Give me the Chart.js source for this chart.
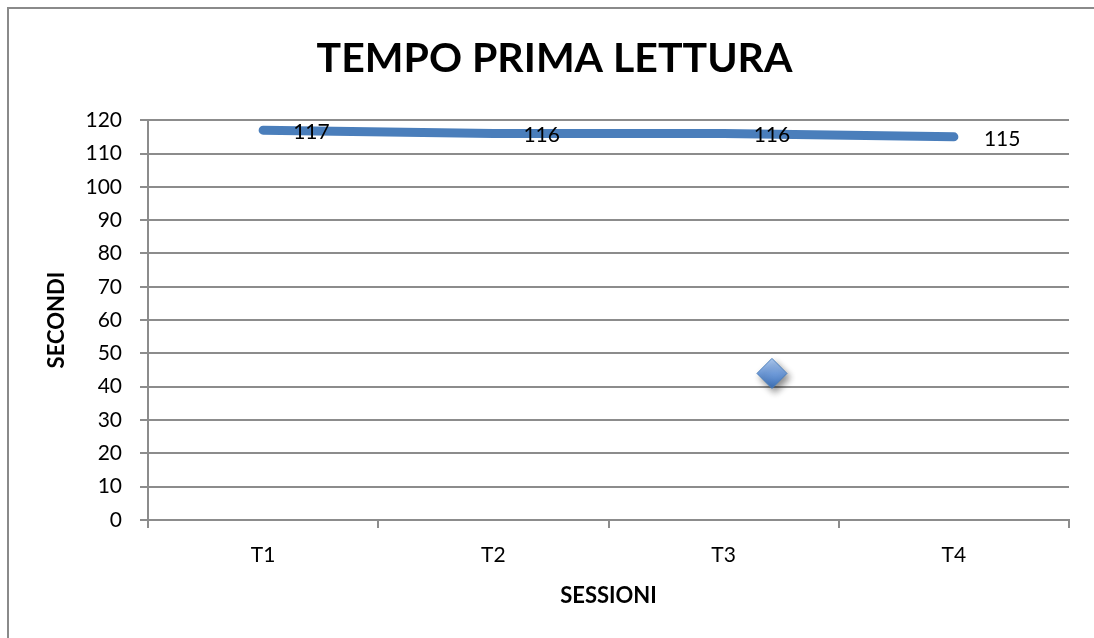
<!DOCTYPE html>
<html>
<head>
<meta charset="utf-8">
<script src="https://cdn.jsdelivr.net/npm/chart.js@4"></script>
<style>
  html, body { margin: 0; padding: 0; background: #ffffff; }
  #wrap { width: 1094px; height: 638px; position: relative; }
</style>
</head>
<body>
<div id="wrap"><canvas id="chart" width="1094" height="638"></canvas></div>
<script>
// Sessions and average reading time (seconds)
const categories = ['T1', 'T2', 'T3', 'T4'];
const tempoValues = [117, 116, 116, 115];
// Isolated marker: position along the session axis (index units) and value
const markerX = [2.21];
const markerY = [44];
const yTicks = { min: 0, max: 120, step: 10 };

const FONT = 'Lato, "Open Sans", "Liberation Sans", sans-serif';
const GRID = '#8c8c8c';

// Outer frame of the chart object
const framePlugin = {
  id: 'frame',
  beforeDraw(chart) {
    const ctx = chart.ctx;
    ctx.save();
    ctx.strokeStyle = '#8a8a8a';
    ctx.lineWidth = 2;
    ctx.strokeRect(8, 8, 1200, 800);
    ctx.restore();
  }
};

// Value labels placed to the right of each line point
const valueLabels = {
  id: 'valueLabels',
  afterDatasetsDraw(chart) {
    const meta = chart.getDatasetMeta(0);
    const ctx = chart.ctx;
    ctx.save();
    ctx.font = '21px ' + FONT;
    ctx.fillStyle = '#000000';
    ctx.textAlign = 'left';
    ctx.textBaseline = 'middle';
    meta.data.forEach((pt, i) => {
      ctx.fillText(String(tempoValues[i]), pt.x + 30, pt.y + 2);
    });
    ctx.restore();
  }
};

// Soft drop shadow under the isolated marker
const markerShadow = {
  id: 'markerShadow',
  beforeDatasetDraw(chart, args) {
    if (args.index !== 1) return;
    const ctx = chart.ctx;
    ctx.save();
    ctx.shadowColor = 'rgba(0,0,0,0.45)';
    ctx.shadowBlur = 7;
    ctx.shadowOffsetX = 3;
    ctx.shadowOffsetY = 4;
  },
  afterDatasetDraw(chart, args) {
    if (args.index !== 1) return;
    chart.ctx.restore();
  }
};

function diamondFill(context) {
  const chart = context.chart;
  const el = context.element;
  if (!el || el.y === undefined) return '#6f9bd6';
  const g = chart.ctx.createLinearGradient(0, el.y - 14, 0, el.y + 14);
  g.addColorStop(0, '#a9c6ee');
  g.addColorStop(0.5, '#6f9bd9');
  g.addColorStop(1, '#3f72b8');
  return g;
}

new Chart(document.getElementById('chart'), {
  type: 'line',
  data: {
    labels: categories,
    datasets: [
      {
        label: 'Tempo',
        data: tempoValues,
        borderColor: '#4a7ebb',
        borderWidth: 9,
        borderCapStyle: 'round',
        borderJoinStyle: 'round',
        pointRadius: 0,
        pointHoverRadius: 0,
        tension: 0,
        fill: false,
        xAxisID: 'x',
        yAxisID: 'y'
      },
      {
        type: 'scatter',
        label: 'Marker',
        data: markerX.map((x, i) => ({ x: x, y: markerY[i] })),
        pointStyle: 'rectRot',
        pointRadius: 15,
        pointHoverRadius: 15,
        backgroundColor: diamondFill,
        borderColor: '#4a7ebb',
        borderWidth: 1,
        xAxisID: 'xs',
        yAxisID: 'y'
      }
    ]
  },
  options: {
    responsive: false,
    animation: false,
    events: [],
    layout: { padding: { left: 40, right: 25, top: 0, bottom: 0 } },
    plugins: {
      legend: { display: false },
      tooltip: { enabled: false },
      title: {
        display: true,
        text: 'TEMPO PRIMA LETTURA',
        color: '#000000',
        font: { family: FONT, size: 41, weight: 'bold' },
        padding: { top: 34, bottom: 37 }
      }
    },
    scales: {
      x: {
        type: 'category',
        offset: true,
        grid: {
          offset: true,
          drawOnChartArea: false,
          drawTicks: true,
          tickLength: 8,
          color: GRID,
          lineWidth: 2
        },
        border: { display: true, color: GRID, width: 2 },
        ticks: {
          color: '#000000',
          font: { family: FONT, size: 21 },
          padding: 15,
          maxRotation: 0
        },
        title: {
          display: true,
          text: 'SESSIONI',
          color: '#000000',
          font: { family: FONT, size: 22, weight: 'bold' },
          padding: { top: 0, bottom: 29 }
        },
        afterFit(scale) { scale.height = 118; }
      },
      xs: {
        type: 'linear',
        display: false,
        min: -0.5,
        max: 3.5
      },
      y: {
        min: yTicks.min,
        max: yTicks.max,
        grid: {
          color: GRID,
          lineWidth: 2,
          drawTicks: true,
          tickLength: 8
        },
        border: { display: true, color: GRID, width: 2 },
        ticks: {
          stepSize: yTicks.step,
          color: '#000000',
          font: { family: FONT, size: 21 },
          padding: 18
        },
        title: {
          display: true,
          text: 'SECONDI',
          color: '#000000',
          font: { family: FONT, size: 22, weight: 'bold' },
          padding: { top: 4, bottom: 0 }
        },
        afterFit(scale) { scale.width = 108; }
      }
    }
  },
  plugins: [framePlugin, markerShadow, valueLabels]
});
</script>
</body>
</html>
